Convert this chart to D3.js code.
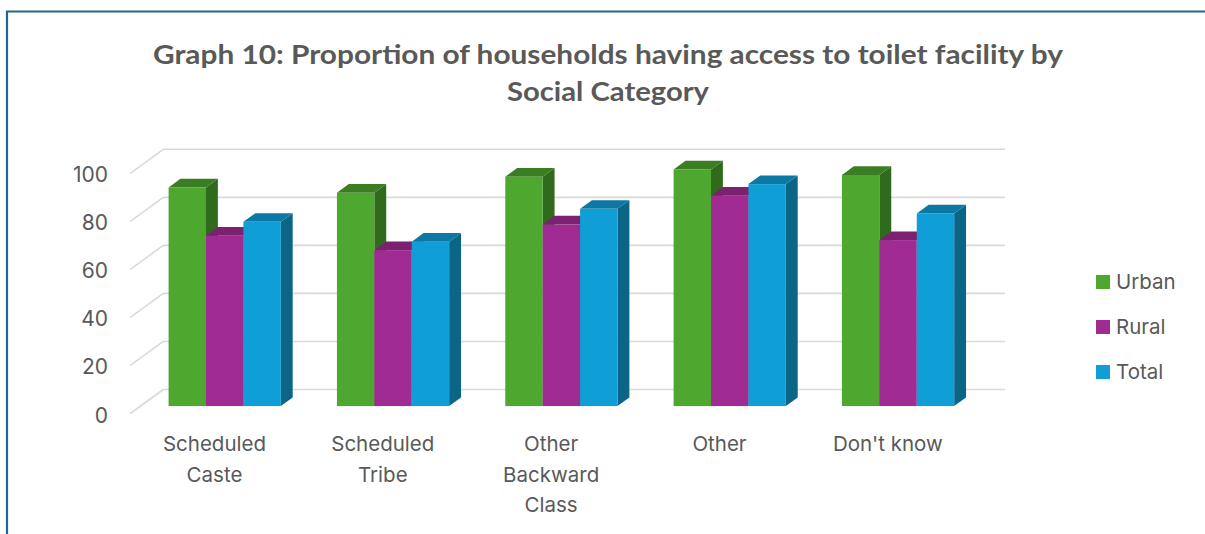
<!DOCTYPE html>
<html>
<head>
<meta charset="utf-8">
<script src="https://cdn.jsdelivr.net/npm/d3@7"></script>
<style>
  html, body { margin: 0; padding: 0; background: #fff; }
  svg { display: block; }
</style>
</head>
<body>
<svg id="chart" width="1205" height="534"></svg>
<script>
// ---- data ----
const categories = [["Scheduled", "Caste"], ["Scheduled", "Tribe"], ["Other", "Backward", "Class"], ["Other"], ["Don't know"]];
const categoryKeys = ["Scheduled Caste", "Scheduled Tribe", "Other Backward Class", "Other", "Don't know"];
const seriesNames = ["Urban", "Rural", "Total"];
const urban = [91.0, 88.8, 95.5, 98.5, 96.2];
const rural = [70.9, 64.9, 75.6, 87.6, 69.1];
const total = [76.7, 68.4, 82.1, 92.4, 80.2];
const yTicks = [0, 20, 40, 60, 80, 100];
const titleLines = ["Graph 10: Proportion of households having access to toilet facility by", "Social Category"];

const seriesValues = [urban, rural, total];
const colors = {
  front: ["#4ea72e", "#a02b93", "#0f9ed5"],
  top:   ["#3b7d23", "#7a2170", "#0c78a3"],
  side:  ["#306a1c", "#6a1c61", "#0a6586"]
};

const svg = d3.select("#chart");
const textColor = "#595959";
const titleFont = "Lato, 'Open Sans', sans-serif";
const font = "Inter, 'Open Sans', sans-serif";

// frame border
svg.append("path")
  .attr("d", "M7,534 L7,11.5 L1205,11.5")
  .attr("fill", "none").attr("stroke", "#21678c").attr("stroke-width", 2.2);

// title
svg.selectAll("text.title").data(titleLines).enter().append("text")
  .attr("class", "title")
  .attr("x", 608).attr("y", (d, i) => 64 + i * 37)
  .attr("text-anchor", "middle")
  .attr("font-family", titleFont).attr("font-weight", "bold").attr("font-size", 26)
  .attr("fill", textColor)
  .attr("textLength", (d, i) => i === 0 ? 910 : 202)
  .attr("lengthAdjust", "spacingAndGlyphs")
  .text(d => d);

// ---- 3D geometry ----
const backX0 = 163.3, backX1 = 1005;
const depth = { dx: -33, dy: 24 };      // back wall -> front edge of floor
const fFront = 0.69, fBack = 0.33;       // bar front/back planes as fraction of depth

const yBack = d3.scaleLinear().domain([0, 100]).range([389.5, 149.3]);
const yFront = v => yBack(v) + depth.dy * fFront;

const x = d3.scaleBand().domain(categoryKeys)
  .range([backX0 + depth.dx * fFront, backX1 + depth.dx * fFront])
  .paddingInner(1 / 3).paddingOuter(1 / 6);
const xs = d3.scaleBand().domain(seriesNames).range([0, x.bandwidth()]);

const barDx = -depth.dx * (fFront - fBack);  // positive right
const barDy = -depth.dy * (fFront - fBack);  // negative up

// gridlines on the back wall and side wall
const grid = svg.append("g");
yTicks.forEach(t => {
  const yb = yBack(t);
  grid.append("line").attr("x1", backX0).attr("x2", backX1).attr("y1", yb).attr("y2", yb)
    .attr("stroke", "#d9d9d9").attr("stroke-width", 1.6);
  grid.append("line").attr("x1", backX0).attr("y1", yb)
    .attr("x2", backX0 + depth.dx).attr("y2", yb + depth.dy)
    .attr("stroke", "#d9d9d9").attr("stroke-width", 1.6);
});

// y tick labels
svg.selectAll("text.ytick").data(yTicks).enter().append("text")
  .attr("class", "ytick")
  .attr("x", 108).attr("y", d => yBack(d) + depth.dy + 9)
  .attr("text-anchor", "end")
  .attr("font-family", font).attr("font-size", 21).attr("fill", textColor)
  .text(d => d);

// bars
const bars = svg.append("g");
categoryKeys.forEach((c, ci) => {
  seriesNames.forEach((s, si) => {
    const v = seriesValues[si][ci];
    const x0 = x(c) + xs(s), x1 = x0 + xs.bandwidth();
    const yT = yFront(v), yB = yFront(0);
    bars.append("path")
      .attr("d", `M${x1},${yT} L${x1 + barDx},${yT + barDy} L${x1 + barDx},${yB + barDy} L${x1},${yB} Z`)
      .attr("fill", colors.side[si]);
    bars.append("path")
      .attr("d", `M${x0},${yT} L${x0 + barDx},${yT + barDy} L${x1 + barDx},${yT + barDy} L${x1},${yT} Z`)
      .attr("fill", colors.top[si]);
    bars.append("rect")
      .attr("x", x0).attr("y", yT).attr("width", x1 - x0).attr("height", yB - yT)
      .attr("fill", colors.front[si]);
  });
});

// category labels (at front edge of floor)
const labelShift = depth.dx * (1 - fFront);
categoryKeys.forEach((c, ci) => {
  const cx = x(c) + x.bandwidth() / 2 + labelShift;
  const t = svg.append("text")
    .attr("text-anchor", "middle")
    .attr("font-family", font).attr("font-size", 20.5).attr("fill", textColor);
  categories[ci].forEach((line, li) => {
    t.append("tspan").attr("x", cx).attr("y", 451 + li * 30.5).text(line);
  });
});

// legend
const legend = svg.append("g");
seriesNames.forEach((s, si) => {
  const yy = 275 + si * 45;
  legend.append("rect").attr("x", 1096).attr("y", yy).attr("width", 14).attr("height", 14)
    .attr("fill", colors.front[si]);
  legend.append("text").attr("x", 1116).attr("y", yy + 14)
    .attr("font-family", font).attr("font-size", 20.5).attr("fill", textColor)
    .text(s);
});
</script>
</body>
</html>
